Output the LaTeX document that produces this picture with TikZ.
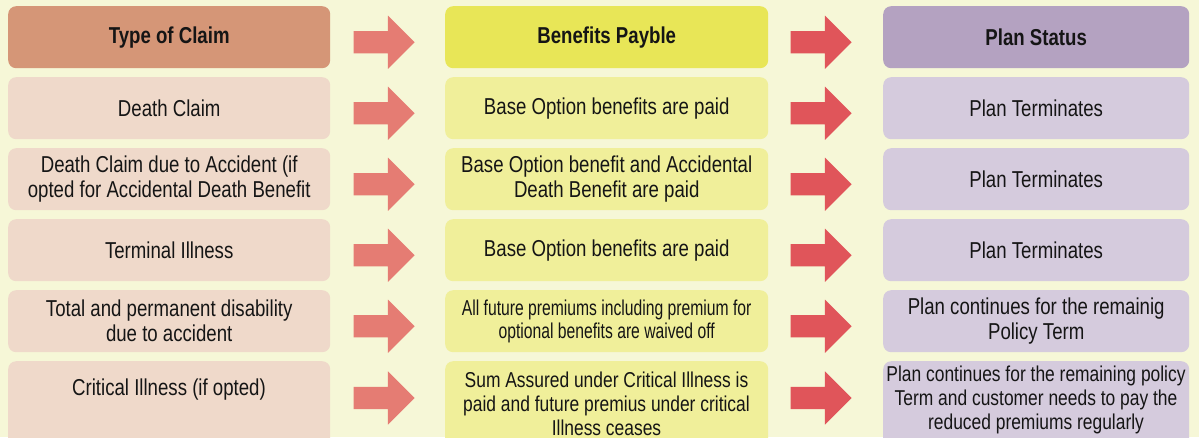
\documentclass[tikz,border=0pt]{standalone}
\usepackage{fontspec}
\setmainfont{Liberation Sans}[FakeStretch=0.81]
\newfontfamily\narrowfont{Liberation Sans}[FakeStretch=0.73]
\usetikzlibrary{shapes.arrows,calc}
\definecolor{bg}{HTML}{F6F7D7}
\definecolor{hA}{HTML}{D59677}
\definecolor{rA}{HTML}{EFD9CA}
\definecolor{hB}{HTML}{E8E657}
\definecolor{rB}{HTML}{F0EF9A}
\definecolor{hC}{HTML}{B4A2C1}
\definecolor{rC}{HTML}{D5CBDD}
\definecolor{arA}{HTML}{E57C73}
\definecolor{arB}{HTML}{E0555A}
\definecolor{txt}{HTML}{151515}
\begin{document}
\begin{tikzpicture}[x=1pt,y=-1pt,
  box/.style={rounded corners=8pt, minimum height=62pt, inner sep=0pt, align=center,
    anchor=north west, text=txt, font=\fontsize{23}{25}\selectfont},
  colA/.style={box, minimum width=322pt, fill=rA},
  colB/.style={box, minimum width=323pt, fill=rB},
  colC/.style={box, minimum width=306pt, fill=rC},
  head/.style={font=\fontsize{23}{25}\selectfont\bfseries},
  small/.style={font=\fontsize{21.5}{24}\selectfont},
  tiny/.style={font=\fontsize{21.5}{22.7}\selectfont\narrowfont},
  tall/.style={minimum height=90pt},
  txtnode/.style={inner sep=0pt, align=center, text=txt, font=\fontsize{23}{25}\selectfont},
  arrowbase/.style={single arrow, inner sep=0pt, inner ysep=11pt, minimum height=61pt,
    minimum width=53pt, single arrow head extend=15.5pt, single arrow head indent=0pt,
    single arrow tip angle=90, draw=none, anchor=tail},
  arrA/.style={arrowbase, fill=arA},
  arrB/.style={arrowbase, fill=arB}]
\fill[bg] (0,0) rectangle (1199,437);
\useasboundingbox (0,0) rectangle (1199,437);
% header
\node[colA, fill=hA, head] (a0) at (8,6) {Type of Claim};
\node[colB, fill=hB, head] (b0) at (445,6) {Benefits Payble};
\node[colC, fill=hC, head] (c0) at (883,6) {Plan Status};
% row 1
\node[colA] (a1) at (8,77) {Death Claim};
\node[colB] (b1) at (445,77) {Base Option benefits are paid};
\node[colC] (c1) at (883,77) {Plan Terminates};
% row 2
\node[colA] (a2) at (8,148) {Death Claim due to Accident (if\\opted for Accidental Death Benefit};
\node[colB] (b2) at (445,148) {Base Option benefit and Accidental\\Death Benefit are paid};
\node[colC] (c2) at (883,148) {Plan Terminates};
% row 3
\node[colA] (a3) at (8,219) {Terminal Illness};
\node[colB] (b3) at (445,219) {Base Option benefits are paid};
\node[colC] (c3) at (883,219) {Plan Terminates};
% row 4
\node[colA] (a4) at (8,290) {Total and permanent disability\\due to accident};
\node[colB, tiny] (b4) at (445,290) {All future premiums including premium for\\optional benefits are waived off};
\node[colC] (c4) at (883,290) {Plan continues for the remainig\\Policy Term};
% row 5
\node[colA, tall] (a5) at (8,361) {};
\node[colB, tall] (b5) at (445,361) {};
\node[colC, tall] (c5) at (883,361) {};
\node[txtnode] (a5t) at (169,390) {Critical Illness (if opted)};
\node[txtnode, small] (b5t) at (606.5,404) {Sum Assured under Critical Illness is\\paid and future premius under critical\\Illness ceases};
\node[txtnode, small] (c5t) at (1036,400) {Plan continues for the remaining policy\\Term and customer needs to pay the\\reduced premiums regularly};
% arrows
\foreach \i in {0,1,2,3,4} {
  \node[arrA] (p\i) at ($(a\i.east)+(23,5)$) {};
  \node[arrB] (q\i) at ($(b\i.east)+(22,5)$) {};
}
\node[arrA] (p5) at ($(a5.north east)+(23,37)$) {};
\node[arrB] (q5) at ($(b5.north east)+(22,37)$) {};
\end{tikzpicture}
\end{document}
